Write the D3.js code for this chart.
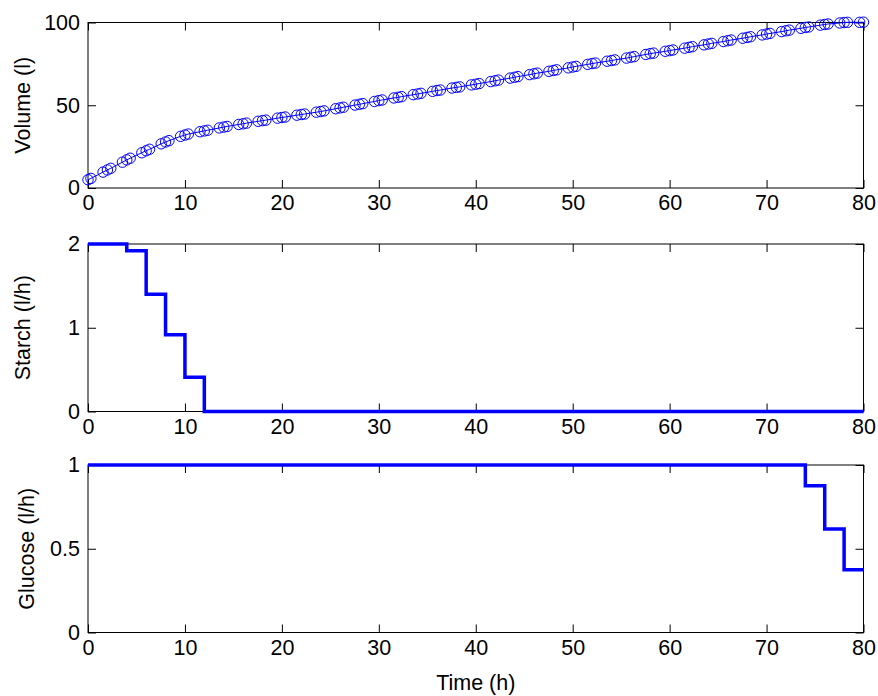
<!DOCTYPE html>
<html>
<head>
<meta charset="utf-8">
<script src="https://cdn.jsdelivr.net/npm/d3@7"></script>
<style>
  html, body { margin: 0; padding: 0; background: #fff; }
  svg { display: block; }
  text { font-family: Arial, "Liberation Sans", Helvetica, sans-serif; }
</style>
</head>
<body>
<svg id="chart" width="878" height="696"></svg>
<script>
// ---- Data ----
const volumeTime = [0, 0.3,
  1.55, 2, 2.35, 3.55, 4, 4.35, 5.55, 6, 6.35, 7.55, 8, 8.35, 9.55, 10, 10.35,
  11.55, 12, 12.35, 13.55, 14, 14.35, 15.55, 16, 16.35, 17.55, 18, 18.35, 19.55, 20, 20.35,
  21.55, 22, 22.35, 23.55, 24, 24.35, 25.55, 26, 26.35, 27.55, 28, 28.35, 29.55, 30, 30.35,
  31.55, 32, 32.35, 33.55, 34, 34.35, 35.55, 36, 36.35, 37.55, 38, 38.35, 39.55, 40, 40.35,
  41.55, 42, 42.35, 43.55, 44, 44.35, 45.55, 46, 46.35, 47.55, 48, 48.35, 49.55, 50, 50.35,
  51.55, 52, 52.35, 53.55, 54, 54.35, 55.55, 56, 56.35, 57.55, 58, 58.35, 59.55, 60, 60.35,
  61.55, 62, 62.35, 63.55, 64, 64.35, 65.55, 66, 66.35, 67.55, 68, 68.35, 69.55, 70, 70.35,
  71.55, 72, 72.35, 73.55, 74, 74.35, 75.55, 76, 76.35, 77.55, 78, 78.35, 79.6, 80];
const volumeValue = [5.0, 5.8,
  9.6, 10.9, 11.9, 15.6, 17.0, 18.0, 21.3, 22.5, 23.4, 26.7, 27.8, 28.6, 31.2, 32.0, 32.6,
  34.0, 34.5, 34.9, 36.3, 36.8, 37.2, 38.4, 38.8, 39.2, 40.3, 40.7, 41.0, 42.2, 42.6, 42.9,
  44.0, 44.4, 44.7, 45.8, 46.2, 46.6, 47.9, 48.4, 48.8, 50.1, 50.6, 51.0, 52.3, 52.8, 53.2,
  54.4, 54.8, 55.2, 56.4, 56.8, 57.2, 58.4, 58.9, 59.2, 60.4, 60.8, 61.1, 62.3, 62.7, 63.1,
  64.3, 64.8, 65.2, 66.4, 66.9, 67.3, 68.5, 69.0, 69.4, 70.5, 71.0, 71.4, 72.6, 73.1, 73.5,
  74.7, 75.2, 75.5, 76.6, 77.0, 77.4, 78.5, 79.0, 79.4, 80.7, 81.2, 81.5, 82.6, 83.0, 83.4,
  84.5, 85.0, 85.4, 86.5, 87.0, 87.4, 88.5, 89.0, 89.4, 90.5, 91.0, 91.4, 92.5, 93.0, 93.4,
  94.5, 95.0, 95.4, 96.5, 97.0, 97.3, 98.4, 98.8, 99.1, 99.7, 100.0, 100.1, 100.1, 100.2];

// Piecewise-constant feed rates: [start, end, rate]
const starchSteps = [[0, 4, 2.0], [4, 6, 1.92], [6, 8, 1.4], [8, 10, 0.915], [10, 12, 0.41], [12, 80, 0]];
const glucoseSteps = [[0, 74, 1.0], [74, 76, 0.876], [76, 78, 0.618], [78, 80, 0.375]];

const xTicks = [0, 10, 20, 30, 40, 50, 60, 70, 80];
const volumeTicks = [0, 50, 100];
const starchTicks = [0, 1, 2];
const glucoseTicks = [0, 0.5, 1];

// ---- Drawing ----
const svg = d3.select("#chart");
const blue = "#0000ff";
const fontSize = 21.5;
const x = d3.scaleLinear().domain([0, 80]).range([88, 863.5]);

const panels = [
  { top: 22.5, bottom: 188, domain: [0, 100], ticks: volumeTicks, label: "Volume (l)", labelX: 22, fmt: d3.format("d") },
  { top: 244, bottom: 411.5, domain: [0, 2], ticks: starchTicks, label: "Starch (l/h)", labelX: 22, fmt: d3.format("d") },
  { top: 465, bottom: 632.5, domain: [0, 1], ticks: glucoseTicks, label: "Glucose (l/h)", labelX: 26, fmt: d => d === 0.5 ? "0.5" : String(d) }
];

panels.forEach(p => {
  p.y = d3.scaleLinear().domain(p.domain).range([p.bottom, p.top]);
  const g = svg.append("g");
  const x0 = x.range()[0], x1 = x.range()[1];

  g.append("rect").attr("x", x0).attr("y", p.top).attr("width", x1 - x0).attr("height", p.bottom - p.top)
    .attr("fill", "none").attr("stroke", "#000").attr("stroke-width", 1);

  const styleAxis = sel => {
    sel.select(".domain").remove();
    sel.selectAll(".tick line").attr("stroke", "#000").attr("stroke-width", 1);
    sel.selectAll(".tick text").attr("fill", "#000").style("font-size", fontSize + "px")
      .style("font-family", "Arial, 'Liberation Sans', Helvetica, sans-serif");
  };

  g.append("g").attr("transform", `translate(0,${p.bottom})`)
    .call(d3.axisBottom(x).tickValues(xTicks).tickFormat(d3.format("d")).tickSize(-8).tickPadding(7))
    .call(styleAxis);
  g.append("g").attr("transform", `translate(0,${p.top})`)
    .call(d3.axisTop(x).tickValues(xTicks).tickFormat("").tickSize(-8))
    .call(styleAxis);
  g.append("g").attr("transform", `translate(${x0},0)`)
    .call(d3.axisLeft(p.y).tickValues(p.ticks).tickFormat(p.fmt).tickSize(-8).tickPadding(8))
    .call(styleAxis);
  g.append("g").attr("transform", `translate(${x1},0)`)
    .call(d3.axisRight(p.y).tickValues(p.ticks).tickFormat("").tickSize(-8))
    .call(styleAxis);

  g.append("text")
    .attr("transform", `translate(${p.labelX},${(p.top + p.bottom) / 2}) rotate(-90)`)
    .attr("text-anchor", "middle").attr("dy", "0.35em")
    .style("font-size", fontSize + "px").attr("fill", "#000")
    .text(p.label);
});

// Volume: line with circle markers
const pV = panels[0];
const volData = volumeTime.map((t, i) => [t, volumeValue[i]]);
svg.append("path").datum(volData)
  .attr("fill", "none").attr("stroke", blue).attr("stroke-width", 1)
  .attr("d", d3.line().x(d => x(d[0])).y(d => pV.y(d[1])));
svg.append("g").selectAll("circle").data(volData).join("circle")
  .attr("cx", d => x(d[0])).attr("cy", d => pV.y(d[1])).attr("r", 5.2)
  .attr("fill", "none").attr("stroke", blue).attr("stroke-width", 1);

// Step lines
function stepPoints(steps) {
  const pts = [];
  steps.forEach(s => { pts.push([s[0], s[2]]); pts.push([s[1], s[2]]); });
  return pts;
}
[[panels[1], starchSteps], [panels[2], glucoseSteps]].forEach(([p, steps]) => {
  svg.append("path").datum(stepPoints(steps))
    .attr("fill", "none").attr("stroke", blue).attr("stroke-width", 3.5)
    .attr("stroke-linejoin", "miter")
    .attr("d", d3.line().x(d => x(d[0])).y(d => p.y(d[1])));
});

svg.append("text")
  .attr("x", (x.range()[0] + x.range()[1]) / 2).attr("y", 690)
  .attr("text-anchor", "middle")
  .style("font-size", fontSize + "px").attr("fill", "#000")
  .text("Time (h)");
</script>
</body>
</html>
